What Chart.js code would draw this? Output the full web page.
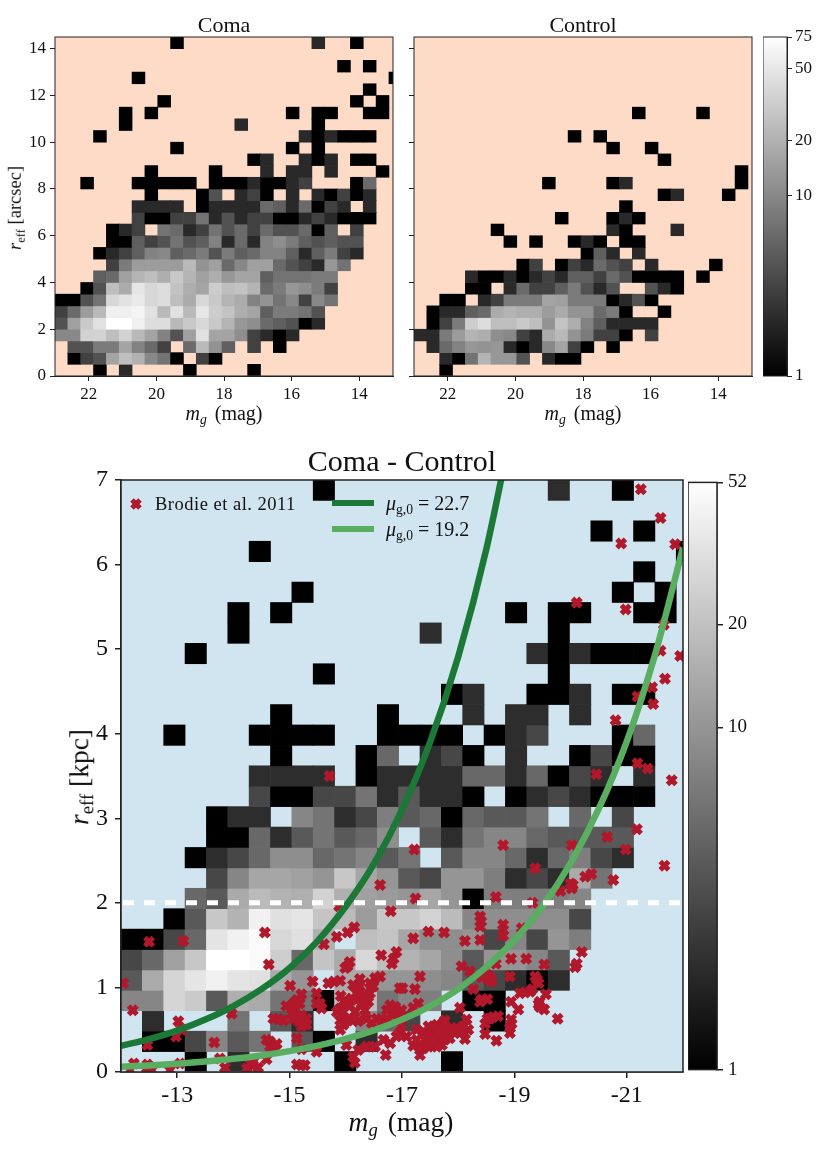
<!DOCTYPE html>
<html><head><meta charset="utf-8">
<script src="https://cdn.jsdelivr.net/npm/chart.js@4"></script>
<style>
html,body{margin:0;padding:0;background:#fff;width:817px;height:1160px;overflow:hidden}
canvas{position:absolute;display:block}
.t{position:absolute;font-family:"Liberation Serif",serif;color:#111;white-space:nowrap;line-height:1}
.t i{font-style:italic}
.t sub{font-size:68%;line-height:0;vertical-align:-0.28em}
.c{transform:translate(-50%,-50%)}
.r{transform:translate(-50%,-50%) rotate(-90deg)}
</style></head><body>
<canvas id="coma"></canvas><canvas id="control"></canvas><canvas id="cbTop"></canvas>
<canvas id="diff"></canvas><canvas id="cbBottom"></canvas>
<div class="t c" style="left:224px;top:413px;font-size:20px;word-spacing:3px"><i>m<sub>g</sub></i> (mag)</div>
<div class="t c" style="left:583px;top:413px;font-size:20px;word-spacing:3px"><i>m<sub>g</sub></i> (mag)</div>
<div class="t r" style="left:15px;top:208px;font-size:18.5px"><i>r</i><sub>eff</sub> [arcsec]</div>
<div class="t c" style="left:401px;top:1122px;font-size:27.5px;word-spacing:3px"><i>m<sub>g</sub></i> (mag)</div>
<div class="t r" style="left:79px;top:777px;font-size:27.5px"><i>r</i><sub>eff</sub> [kpc]</div>
<div class="t" style="left:155px;top:495px;font-size:18.5px;letter-spacing:.5px">Brodie et al. 2011</div>
<div class="t" style="left:386px;top:493px;font-size:20px"><i>μ</i><sub>g,0</sub> = 22.7</div>
<div class="t" style="left:386px;top:519px;font-size:20px"><i>μ</i><sub>g,0</sub> = 19.2</div>
<script>
// ---- data: each row (bottom to top) is [firstColumn, counts...] or {column: count}
const comaRows = [
 {3:1,5:2,10:1,15:1},
 [1, 1,3,4,16,25,20,10,7,1,0,3,1],
 [1, 4,4,8,8,16,9,6,3,0,6,23,12,5,0,3,0,1],
 [0, 10,10,35,35,25,35,23,16,9,4,15,45,16,16,11,3,2,1,2],
 [0, 4,15,30,45,75,75,58,42,42,23,30,38,30,21,13,11,6,5,4,1,2],
 [0, 3,6,14,23,58,58,63,45,23,45,23,49,32,27,19,16,5,8,8,7,4],
 [0, 1,1,4,7,38,45,53,38,42,25,18,38,30,21,18,9,12,7,10,3,10,7],
 [2, 1,4,25,18,49,38,42,27,19,16,32,25,27,21,6,8,13,11,8,3],
 [3, 5,6,15,21,25,19,30,21,15,19,13,16,16,5,7,7,7,8,8],
 [4, 3,8,14,14,14,14,23,12,15,6,10,15,15,6,4,3,2,13,7],
 [3, 1,2,3,5,9,10,5,6,8,4,8,5,6,9,9,5,2,5,8,3,2],
 [4, 1,1,5,3,4,7,4,5,9,2,6,2,9,11,8,5,4,5,4,4],
 [4, 1,2,3,0,7,6,2,3,7,4,6,3,6,4,4,6,1,5,0,3],
 [6, 3,1,1,3,3,7,2,4,2,3,3,1,1,2,3,2,1,1,1],
 [6, 2,2,2,2,0,1,2,2,2,2,6,5,2,6,1,3,2,0,2],
 [7, 1,0,0,0,1,4,0,2,3,1,0,2,0,2,1,3,1,2],
 [2, 1,0,0,0,1,1,1,1,1,0,1,1,1,2,1,1,2,3,0,0,0,1,6],
 {7:1,12:1,16:2,18:2,19:2,21:2,25:1},
 {15:1,16:2,19:2,20:1,21:2,23:1,24:1},
 {9:1,18:1,20:1},
 {3:1,19:2,20:1,21:2,22:1,23:1,24:1},
 {5:1,14:2,20:1},
 {5:1,7:1,18:1,20:1,21:1,24:1,25:1},
 {8:1,23:1,25:1},
 {24:1},
 {6:1,26:1},
 {22:1,24:1},
 {},
 {9:1,20:2,23:1}
];
const controlRows = [
 {2:1},
 [2, 2,1,7,21,13,13,4,0,2,1,1],
 [1, 2,6,9,13,12,13,2,1,2,10,16,3,1,0,1],
 [0, 2,2,8,14,21,19,11,10,3,2,18,23,12,8,3,3,1,0,3],
 [1, 1,3,8,32,42,25,25,30,25,12,27,19,9,5,2,2,2,2],
 [1, 1,2,2,5,6,18,21,19,19,14,18,12,12,6,8,1,0,0,1],
 [2, 1,1,0,2,3,8,8,8,16,15,8,8,8,1,2,4,1],
 [4, 1,1,0,2,6,3,3,5,8,4,2,4,0,0,4,2,1],
 [4, 2,1,1,2,1,2,3,2,5,5,3,6,4,1,1,1,1,0,1],
 {8:1,9:3,11:1,12:3,13:2,14:6,15:4,16:3,18:2,23:1},
 {13:1,14:5,15:2,17:2},
 {7:1,9:1,12:1,13:2,14:1,16:1,17:1},
 {6:1,15:2,16:1,20:2},
 {11:1,15:1,16:2,17:1},
 {16:1},
 {19:1,20:2,24:1},
 {10:1,15:1,16:2,25:1},
 {25:1},
 {19:1},
 {15:1,18:1},
 {12:1,14:1},
 {},
 {17:1,22:1}
];
const diffRows = [
 {3:1,5:2,10:1,15:1},
 {1:1,2:1,3:3,4:8,5:4,6:6,8:4,9:1,11:2},
 {1:2,5:6,7:4,8:2,11:8,12:5,13:3,15:2,17:1},
 [0, 8,8,27,23,4,15,14,6,6,1,19,19,6,8,7,0,1,1],
 [0, 4,14,27,35,42,34,32,14,10,0,14,14,10,10,9,8,4,3,2,1,2],
 [0, 3,5,12,22,52,52,48,24,5,21,14,28,19,16,13,9,4,10,10,8,4],
 [0, 1,1,3,5,34,42,48,28,32,15,0,19,21,13,9,9,10,3,8,3,10,7],
 [2, 1,4,22,16,42,32,35,21,18,11,22,22,26,18,8,9,9,9,9,3],
 [3, 5,4,14,18,16,15,26,15,12,11,10,13,10,1,7,7,7,7,8],
 [4, 3,8,13,13,12,10,22,13,10,4,3,10,10,7,2,3,2,14,6],
 [3, 1,2,3,5,9,9,5,6,8,4,6,0,4,8,8,5,2,5,7,3,2],
 [4, 1,1,5,2,4,6,4,5,9,0,4,2,6,8,8,5,4,4,4,4],
 [4, 1,2,2,0,8,6,2,3,7,4,5,1,5,4,4,6,0,5,0,3],
 [6, 3,1,1,3,3,6,2,4,2,2,1,0,1,2,3,2,1,1,1],
 [6, 2,2,2,2,0,1,2,2,2,2,5,5,2,5,1,3,2,0,2],
 {7:1,11:1,12:5,14:2,15:3,16:1,18:2,21:1,22:3,23:1,24:1},
 {2:1,6:1,7:1,8:1,9:1,12:1,13:1,14:1,15:1,17:1,18:2,19:3,23:1,24:5},
 {7:1,12:1,16:2,18:2,19:2,21:2},
 {15:1,16:2,19:1,20:1,21:2,23:1,24:1},
 {9:1,20:1},
 {3:1,19:2,20:1,21:2,22:1,23:1,24:1},
 {5:1,14:2,20:1},
 {5:1,7:1,18:1,20:1,21:1,24:1,25:1},
 {8:1,23:1,25:1},
 {24:1},
 {6:1,26:1},
 {22:1,24:1},
 {},
 {9:1,20:2,23:1}
];
const brodieMag = [-15.71,-12.50,-13.11,-14.56,-15.61,-15.84,-16.03,-16.15,-16.80,-15.88,-16.61,-14.63,-16.63,-16.90,-16.82,-16.85,-16.07,-15.99,-16.03,-12.04,-15.01,-15.41,-15.69,-15.79,-15.90,-16.25,-16.52,-16.43,-16.25,-16.96,-15.21,-15.48,-15.13,-15.91,-16.19,-15.54,-15.57,-14.94,-15.10,-16.19,-16.34,-16.43,-15.90,-15.96,-15.84,-16.34,-16.79,-16.88,-16.73,-12.21,-13.97,-13.02,-14.80,-14.89,-15.07,-15.21,-15.30,-15.16,-15.30,-15.90,-16.13,-16.37,-16.55,-16.64,-16.90,-15.90,-13.08,-12.98,-12.47,-13.66,-14.65,-14.77,-14.71,-15.13,-15.21,-15.48,-16.01,-16.22,-16.13,-16.16,-16.37,-16.52,-16.67,-16.79,-16.71,-16.90,-12.23,-12.47,-13.05,-13.76,-13.85,-14.59,-14.35,-14.24,-15.13,-15.27,-12.16,-12.55,-12.87,
 -20.46,-21.80,-21.18,-20.65,-20.02,-18.80,-17.22,-20.98,-21.67,-19.37,-20.76,-20.37,-20.26,-20.00,-20.02,-19.82,-17.24,-18.67,-19.32,-18.41,-18.39,-18.80,-18.80,-18.80,-19.13,-17.47,-17.75,-17.20,-18.12,-18.39,-20.20,-20.11,-20.08,-18.94,-19.21,-19.53,-18.67,-18.06,-18.21,-17.32,-18.42,-18.57,-18.60,-18.92,-19.37,-19.43,-17.01,-17.23,-18.27,-19.32,-19.19,-19.56,-18.94,-18.42,-18.52,-17.29,-17.20,-16.99,-18.03,-19.07,-19.43,-19.53,-19.77,-17.76,-18.15,-18.62,-18.52,-18.48,-18.94,-18.92,-18.92,-18.48,-18.18,-18.12,-18.68,-17.26,-17.62,-17.73,-17.97,-17.85,-18.03,-17.59,-17.50,-17.68,-17.41,-17.32,-17.20,-17.32,-17.59,-17.71,-16.96,-16.99,
 -21.25,-21.60,-20.90,-21.86,-20.11,-20.98,-21.66,-21.60,-21.95,-21.68,-21.45,-21.19,-21.47,-20.80,-21.19,-21.37,
 -16.13,-16.22,-16.10,-16.28,-16.40,-15.96,-16.07,-16.16,-16.22,-16.01,-15.96,-16.49,-16.61,-16.46,-16.73,-16.85,-15.13,-15.04,-15.24,-15.21,-14.71,-15.07,-15.18,-15.48,-14.65,-14.59,-14.35,-14.44,-14.30,-15.21,-12.46,
 -17.38,-17.47,-17.56,-17.65,-17.79,-17.88,-18.09,-17.94,-17.26,-17.47,-17.38,-17.62,-17.76,-17.53,-17.08,-17.02,-18.54,-18.51,-19.40,-19.28,-19.10,-19.45,-19.45,-18.39,-18.56,-18.71,-18.95,-18.39,-20.04];
const brodieReff = [3.50,1.54,1.55,1.65,1.51,1.60,1.65,1.71,1.90,1.96,2.21,1.27,1.38,1.42,1.28,1.34,1.30,1.23,1.25,1.05,1.02,1.07,1.05,1.07,1.08,1.10,1.11,1.05,1.01,0.99,0.92,0.93,0.85,0.90,0.93,0.81,0.75,0.78,0.73,0.85,0.91,0.93,0.75,0.71,0.71,0.73,0.79,0.77,0.73,0.73,0.69,0.60,0.63,0.61,0.63,0.67,0.63,0.60,0.56,0.61,0.61,0.63,0.63,0.61,0.69,0.50,0.50,0.42,0.32,0.35,0.36,0.33,0.30,0.40,0.27,0.24,0.32,0.26,0.18,0.11,0.30,0.30,0.38,0.34,0.20,0.42,0.10,0.09,0.10,0.16,0.05,0.15,0.08,0.04,0.09,0.08,0.02,0.02,0.02,
 3.52,3.45,2.87,2.78,2.68,2.68,2.63,2.63,2.44,2.41,2.27,2.34,2.31,2.23,2.17,2.14,2.05,2.07,2.00,1.78,1.72,1.74,1.68,1.61,1.70,1.66,1.65,1.58,1.55,1.56,1.42,1.28,1.24,1.34,1.34,1.27,1.28,1.25,1.19,1.13,1.12,1.12,1.07,1.13,1.13,1.05,0.99,0.98,0.98,0.98,0.94,0.92,0.83,0.86,0.86,0.81,0.76,0.73,0.76,0.74,0.80,0.74,0.63,0.61,0.62,0.65,0.63,0.57,0.62,0.52,0.46,0.45,0.50,0.39,0.37,0.50,0.56,0.58,0.52,0.40,0.46,0.48,0.46,0.42,0.38,0.32,0.31,0.20,0.32,0.32,0.46,0.54,
 6.89,6.55,6.25,6.24,5.55,5.47,5.29,4.98,4.92,4.65,4.55,4.44,4.35,4.16,3.65,3.59,
 1.03,0.95,0.87,0.81,0.83,0.83,0.79,0.71,0.60,0.61,0.56,1.01,1.13,0.58,0.63,0.69,0.67,0.69,0.61,0.54,0.63,0.81,0.81,0.81,0.30,0.38,0.12,0.05,0.10,0.08,0.04,
 0.48,0.54,0.42,0.52,0.48,0.52,0.54,0.46,0.38,0.30,0.28,0.30,0.38,0.36,0.42,0.65,1.09,1.15,1.09,0.95,0.93,0.77,0.83,0.83,0.63,0.66,0.57,1.84,2.21];
const curveMag = [-12,-12.5,-13,-13.5,-14,-14.5,-15,-15.5,-16,-16.5,-17,-17.5,-18,-18.5,-19,-19.5,-20,-20.5,-21,-21.5,-22];
const mu227 = [0.31,0.39,0.49,0.62,0.78,0.98,1.23,1.55,1.96,2.46,3.10,3.90,4.91,6.18,7.78];
const mu192 = [0.062,0.078,0.098,0.124,0.156,0.196,0.247,0.311,0.391,0.492,0.62,0.78,0.98,1.24,1.56,1.96,2.47,3.11,3.91,4.93,6.2];
const sizeCut = [2, 2];
const magTicksTop = [22,20,18,16,14];
const magTicksBottom = [-13,-15,-17,-19,-21];
const arcsecTicks = [0,2,4,6,8,10,12,14];
const kpcTicks = [0,1,2,3,4,5,6,7];
const cbTicksTop = [1,10,20,50,75];
const cbTicksBottom = [1,10,20,52];
const MAG_BIN = 0.38, ARC_BIN = 0.5, KPC_BIN = 7/29;

// ---- helpers
const SERIF = '"Liberation Serif", serif', INK = '#222';
Chart.defaults.font.family = SERIF;
Chart.defaults.color = '#111';

function grayOf(v, vmax){ const g = Math.round(255*Math.log(v)/Math.log(vmax)); return `rgb(${g},${g},${g})`; }
function cells(rows, magStart, yBin){
  const out = [];
  rows.forEach((row, r) => {
    const add = (c, v) => { if (v>0) out.push({x: magStart - MAG_BIN*(c+0.5), y:[r*yBin,(r+1)*yBin], v}); };
    if (Array.isArray(row)) row.slice(1).forEach((v,i)=>add(row[0]+i,v));
    else Object.keys(row).forEach(c=>add(+c,row[c]));
  });
  return out;
}
function place(id, px, py, pw, ph, m){
  const cv = document.getElementById(id);
  cv.width = m.l+pw+m.r; cv.height = m.t+ph+m.b;
  cv.style.left = (px-m.l)+'px'; cv.style.top = (py-m.t)+'px';
  cv.style.width = cv.width+'px'; cv.style.height = cv.height+'px';
  return cv;
}
const framePlugin = (bg, lw) => ({
  id:'frame',
  beforeDatasetsDraw(ch){ if(!bg) return; const a=ch.chartArea, c=ch.ctx; c.save(); c.fillStyle=bg; c.fillRect(a.left,a.top,a.width,a.height); c.restore(); },
  afterDatasetsDraw(ch){ const a=ch.chartArea, c=ch.ctx; c.save(); c.strokeStyle=INK; c.lineWidth=lw; c.strokeRect(a.left,a.top,a.width,a.height); c.restore(); }
});
const axisGrid = (len,lw) => ({display:true, offset:false, drawOnChartArea:false, tickLength:len, color:INK, lineWidth:lw});
function ticksFrom(list){ return s => { s.ticks = list.map(value=>({value})); }; }
const fixW = w => s => { s.width = w; };
const fixH = h => s => { s.height = h; };

function heat(id, rows, o){
  const cv = place(id, o.px,o.py,o.pw,o.ph, o.m);
  const datasets = [{type:'bar', data:cells(rows,o.magStart,o.yBin), order:9, clip:0,
    backgroundColor:c=>c.raw?grayOf(c.raw.v,o.vmax):'#000', borderWidth:0, borderSkipped:false,
    barPercentage:1, categoryPercentage:1}].concat(o.extra||[]);
  return new Chart(cv,{type:'bar',data:{datasets},
    options:{responsive:false,animation:false,devicePixelRatio:1,
      layout:{padding:{left:0,right:o.m.r,top:0,bottom:0}},
      plugins:{legend:{display:false},tooltip:{enabled:false},
        title:{display:true,fullSize:false,text:o.title,color:'#111',font:{family:SERIF,size:o.titleSize,weight:'normal',lineHeight:1},padding:{top:o.m.t-o.titleSize-o.titlePad,bottom:o.titlePad}}},
      scales:{
        x:{type:'linear',min:o.xMin,max:o.xMax,reverse:true,offset:false,afterBuildTicks:ticksFrom(o.xTicks),afterFit:fixH(o.m.b),
           grid:axisGrid(o.tick,o.lw),border:{color:INK,width:o.lw},
           ticks:{autoSkip:false,maxRotation:0,padding:o.xPad,font:{family:SERIF,size:o.font},color:'#111',callback:v=>String(v)}},
        y:{type:'linear',min:0,max:o.yMax,afterBuildTicks:ticksFrom(o.yTicks),afterFit:fixW(o.m.l),
           grid:axisGrid(o.tick,o.lw),border:{color:INK,width:o.lw},
           ticks:{display:o.yLabels!==false,autoSkip:false,padding:o.yPad,font:{family:SERIF,size:o.font},color:'#111',callback:v=>String(v)}}
      }},
    plugins:[framePlugin(o.bg,o.lw)].concat(o.plugins||[])});
}
function colorbar(id, vmax, list, o){
  const cv = place(id,o.px,o.py,o.pw,o.ph,o.m);
  return new Chart(cv,{type:'bar',data:{labels:['counts'],datasets:[{data:[[1,vmax]],clip:0,borderWidth:0,borderSkipped:false,barPercentage:1,categoryPercentage:1,
      backgroundColor(c){const a=c.chart.chartArea; if(!a) return '#888'; const g=c.chart.ctx.createLinearGradient(0,a.bottom,0,a.top); g.addColorStop(0,'#000'); g.addColorStop(1,'#fff'); return g;}}]},
    options:{responsive:false,animation:false,devicePixelRatio:1,
      layout:{padding:{left:0,right:0,top:o.m.t,bottom:o.m.b}},
      plugins:{legend:{display:false},tooltip:{enabled:false}},
      scales:{x:{type:'category',display:false,offset:true},
        y:{type:'logarithmic',position:'right',min:1,max:vmax,afterBuildTicks:ticksFrom(list),afterFit:fixW(o.m.r),
           grid:axisGrid(o.tick,o.lw),border:{color:INK,width:o.lw},
           ticks:{autoSkip:false,padding:o.tickPad,font:{family:SERIF,size:o.font},color:'#111',callback:v=>String(v)}}}},
    plugins:[framePlugin(null,o.lw)]});
}

// ---- top row
const topCommon = {py:37,pw:338,ph:339,magStart:23,yBin:ARC_BIN,vmax:75,bg:'#fddbc7',xMin:13,xMax:23,yMax:14.5,
  xTicks:magTicksTop,yTicks:arcsecTicks,titleSize:22,titlePad:0,tick:5,lw:1,xPad:3,yPad:4,font:17};
heat('coma',comaRows,Object.assign({},topCommon,{px:55,title:'Coma',m:{l:55,r:12,t:30,b:32}}));
heat('control',controlRows,Object.assign({},topCommon,{px:414,title:'Control',yLabels:false,m:{l:12,r:12,t:30,b:32}}));
colorbar('cbTop',75,cbTicksTop,{px:763,py:37,pw:24,ph:339,m:{l:0,r:30,t:14,b:14},tick:5,lw:1,tickPad:3,font:17});

// ---- bottom panel
const lineSet = (xs,ys,color,width,extra) => Object.assign({type:'line',data:ys.map((y,i)=>({x:xs[i],y})),borderColor:color,borderWidth:width,
   pointRadius:0,fill:false,clip:0,cubicInterpolationMode:'monotone'},extra||{});
const legendMarks = {id:'legendMarks',afterDatasetsDraw(ch){
  const c=ch.ctx, ox=ch.canvas.offsetLeft, oy=ch.canvas.offsetTop; c.save();
  c.strokeStyle='#b2182b'; c.lineWidth=5; c.beginPath();
  c.moveTo(132-ox,500-oy); c.lineTo(140-ox,508-oy);
  c.moveTo(140-ox,500-oy); c.lineTo(132-ox,508-oy); c.stroke();
  c.lineWidth=6;
  c.strokeStyle='#1b7837'; c.beginPath(); c.moveTo(332-ox,503-oy); c.lineTo(374-ox,503-oy); c.stroke();
  c.strokeStyle='#5aae61'; c.beginPath(); c.moveTo(332-ox,529-oy); c.lineTo(374-ox,529-oy); c.stroke();
  c.restore();
}};
const extra = [
 {type:'scatter',label:'Brodie et al. 2011',data:brodieMag.map((x,i)=>({x,y:brodieReff[i]})),order:5,clip:0,showLine:false,
  pointStyle:'crossRot',pointRadius:6,pointBorderWidth:5,pointBorderColor:'#b2182b',pointBackgroundColor:'#b2182b'},
 lineSet(curveMag,mu227,'#1b7837',6.5,{label:'mu 22.7',order:4}),
 lineSet(curveMag,mu192,'#5aae61',6.5,{label:'mu 19.2',order:3}),
 lineSet([-12,-22],sizeCut,'#ffffff',5,{label:'2 kpc',order:2,borderDash:[11,10],borderDashOffset:-2,cubicInterpolationMode:'default',tension:0})
];
heat('diff',diffRows,{px:121,py:480,pw:562,ph:592,magStart:-12,yBin:KPC_BIN,vmax:52,bg:'#d1e5f0',xMin:-22,xMax:-12,yMax:7,
  xTicks:magTicksBottom,yTicks:kpcTicks,title:'Coma - Control',titleSize:30,titlePad:2,tick:6,lw:1.5,xPad:3,yPad:7,font:24,
  m:{l:121,r:24,t:40,b:60},extra,plugins:[legendMarks]});
colorbar('cbBottom',52,cbTicksBottom,{px:688,py:480,pw:29,ph:592,m:{l:0,r:60,t:14,b:14},tick:6,lw:1.5,tickPad:5,font:19});
</script>
</body></html>
